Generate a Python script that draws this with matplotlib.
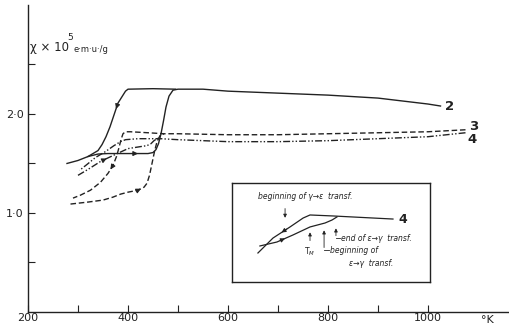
import matplotlib.pyplot as plt

# curve 2 (solid)
c2_heat_T = [278, 300, 320, 340, 360, 400, 440, 450, 456, 461, 466, 471, 476, 482, 490, 500,
             550, 600, 700, 800, 900, 1000, 1025]
c2_heat_chi = [1.50, 1.53, 1.57, 1.595, 1.60, 1.60, 1.60, 1.61, 1.64, 1.70, 1.80, 1.93, 2.07, 2.18, 2.24, 2.25,
               2.25, 2.23, 2.21, 2.19, 2.16, 2.10, 2.08]
c2_cool_T = [495, 450, 400, 395, 390, 380, 372, 364, 356, 348, 340, 330, 320]
c2_cool_chi = [2.25, 2.255, 2.25, 2.23, 2.19, 2.11, 1.99, 1.87, 1.77, 1.69, 1.63, 1.60, 1.57]

# curve 3 (dashed)
c3_heat_T = [285, 320, 350, 370, 385, 400, 420, 432, 438, 443, 448, 453, 458, 464, 472]
c3_heat_chi = [1.09, 1.11, 1.13, 1.16, 1.19, 1.21, 1.23, 1.26, 1.30, 1.38, 1.50, 1.62, 1.72, 1.78, 1.80]
c3_cool_T = [1075, 1000, 900, 800, 700, 600, 500, 472, 440, 405, 395, 390, 386, 382, 377, 370,
             360, 345, 325, 305, 290]
c3_cool_chi = [1.84, 1.82, 1.81, 1.80, 1.79, 1.79, 1.80, 1.80, 1.81, 1.82, 1.82, 1.80, 1.74, 1.66, 1.57, 1.48,
               1.40, 1.31, 1.23, 1.18, 1.15]

# curve 4 (dash-dot)
c4_heat_T = [300, 320, 345, 370, 400, 425, 438, 446, 452, 458, 465]
c4_heat_chi = [1.38, 1.44, 1.52, 1.58, 1.65, 1.67, 1.68, 1.70, 1.73, 1.75, 1.76]
c4_cool_T = [1075, 1000, 900, 800, 700, 600, 500, 465, 420, 395, 385, 372, 355, 335, 318, 303]
c4_cool_chi = [1.81, 1.77, 1.75, 1.73, 1.72, 1.72, 1.74, 1.75, 1.75, 1.74, 1.72, 1.68, 1.62, 1.56, 1.49, 1.43]

# inset schematic of curve 4 (axes fraction)
ins_cool_u = [0.131, 0.207, 0.293, 0.359, 0.394, 0.510, 0.813]
ins_cool_v = [0.293, 0.444, 0.556, 0.646, 0.677, 0.667, 0.636]
ins_heat_u = [0.141, 0.227, 0.308, 0.394, 0.470, 0.505, 0.530]
ins_heat_v = [0.364, 0.404, 0.475, 0.556, 0.596, 0.626, 0.657]

ink = '#222222'
W, H = 509, 326
fig = plt.figure(figsize=(W / 100, H / 100), dpi=100)
ax = fig.add_axes([28 / W, 14 / H, 1 - 28 / W, (312 - 5) / H])
ax.set_xlim(200, 1162)
ax.set_ylim(0, 3.1)
for s in ['top', 'right']:
    ax.spines[s].set_visible(False)
for s in ['left', 'bottom']:
    ax.spines[s].set_color(ink)
    ax.spines[s].set_linewidth(1.0)

ax.set_xticks(range(200, 1001, 100))
ax.set_xticklabels(['200', '', '400', '', '600', '', '800', '', '1000'])
ax.set_yticks([0.5, 1.0, 1.5, 2.0, 2.5])
ax.set_yticklabels(['', '1·0', '', '2·0', ''])
ax.tick_params(direction='in', length=5, width=0.8, color=ink, labelsize=8, labelcolor=ink)
ax.tick_params(axis='y', pad=3)
ax.tick_params(axis='x', pad=1)

lw = 1.0
ax.plot(c2_heat_T, c2_heat_chi, color=ink, lw=lw)
ax.plot(c2_cool_T, c2_cool_chi, color=ink, lw=lw)
ax.plot(c3_heat_T, c3_heat_chi, color=ink, lw=lw, dashes=(4, 2))
ax.plot(c3_cool_T, c3_cool_chi, color=ink, lw=lw, dashes=(4, 2))
ax.plot(c4_heat_T, c4_heat_chi, color=ink, lw=lw, dashes=(5, 1.5, 1, 1.5, 1, 1.5))
ax.plot(c4_cool_T, c4_cool_chi, color=ink, lw=lw, dashes=(5, 1.5, 1, 1.5, 1, 1.5))


def arrow(a, xs, ys, i, ms=7):
    x0, y0, x1, y1 = xs[i], ys[i], xs[i + 1], ys[i + 1]
    a.annotate('', xy=((x0 + x1) / 2, (y0 + y1) / 2),
               xytext=(x0 + 0.2 * (x1 - x0), y0 + 0.2 * (y1 - y0)),
               arrowprops=dict(arrowstyle='-|>', color=ink, lw=0.8,
                               mutation_scale=ms, shrinkA=0, shrinkB=0))


arrow(ax, c2_cool_T, c2_cool_chi, 5)
arrow(ax, c2_heat_T, c2_heat_chi, 5)
arrow(ax, c3_heat_T, c3_heat_chi, 6)
arrow(ax, c3_cool_T, c3_cool_chi, 15)
arrow(ax, c4_heat_T, c4_heat_chi, 2)

ax.text(c2_heat_T[-1] + 10, c2_heat_chi[-1], '2', fontsize=9.5, fontweight='bold', color=ink, va='center')
ax.text(c3_cool_T[0] + 8, c3_cool_chi[0] + 0.03, '3', fontsize=9.5, fontweight='bold', color=ink, va='center')
ax.text(c4_cool_T[0] + 4, c4_cool_chi[0] - 0.07, '4', fontsize=9.5, fontweight='bold', color=ink, va='center')

ax.text(1118, -0.03, '°K', fontsize=8, color=ink, ha='center', va='top')
fig.text(30 / W, 1 - 48 / H, 'χ × 10', fontsize=8.5, color=ink, va='center')
fig.text(67 / W, 1 - 38 / H, '5', fontsize=6.5, color=ink, va='center')
fig.text(73 / W, 1 - 50 / H, 'e·m·u·/g', fontsize=6, color=ink, va='center')

# inset
ins = fig.add_axes([232 / W, 44 / H, 198 / W, 99 / H])
ins.set_xlim(0, 1)
ins.set_ylim(0, 1)
ins.set_xticks([])
ins.set_yticks([])
for s in ins.spines.values():
    s.set_color(ink)
    s.set_linewidth(1.0)
ins.plot(ins_cool_u, ins_cool_v, color=ink, lw=0.9)
ins.plot(ins_heat_u, ins_heat_v, color=ink, lw=0.9)
arrow(ins, ins_cool_u[::-1], ins_cool_v[::-1], 4, ms=6)
arrow(ins, ins_heat_u, ins_heat_v, 1, ms=6)
ins.text(ins_cool_u[-1] + 0.03, ins_cool_v[-1], '4', fontsize=9, fontweight='bold', color=ink, va='center')

fs = 5.5
ins.text(0.13, 0.86, 'beginning of γ→ε  transf.', fontsize=fs, style='italic', color=ink, va='center')
ins.annotate('', xy=(0.268, 0.62), xytext=(0.268, 0.77),
             arrowprops=dict(arrowstyle='-|>', color=ink, lw=0.6, mutation_scale=5))
ins.annotate('', xy=(0.394, 0.53), xytext=(0.394, 0.39),
             arrowprops=dict(arrowstyle='-|>', color=ink, lw=0.6, mutation_scale=5))
ins.text(0.394, 0.31, 'T$_M$', fontsize=fs, color=ink, ha='center', va='center')
ins.annotate('', xy=(0.465, 0.55), xytext=(0.465, 0.32),
             arrowprops=dict(arrowstyle='-|>', color=ink, lw=0.6, mutation_scale=5))
ins.plot([0.465, 0.49], [0.32, 0.32], color=ink, lw=0.6)
ins.text(0.495, 0.32, 'beginning of', fontsize=fs, style='italic', color=ink, va='center')
ins.text(0.59, 0.19, 'ε→γ  transf.', fontsize=fs, style='italic', color=ink, va='center')
ins.annotate('', xy=(0.525, 0.57), xytext=(0.525, 0.44),
             arrowprops=dict(arrowstyle='-|>', color=ink, lw=0.6, mutation_scale=5))
ins.plot([0.525, 0.545], [0.44, 0.44], color=ink, lw=0.6)
ins.text(0.55, 0.44, 'end of ε→γ  transf.', fontsize=fs, style='italic', color=ink, va='center')

fig.savefig('out.png', dpi=100)
